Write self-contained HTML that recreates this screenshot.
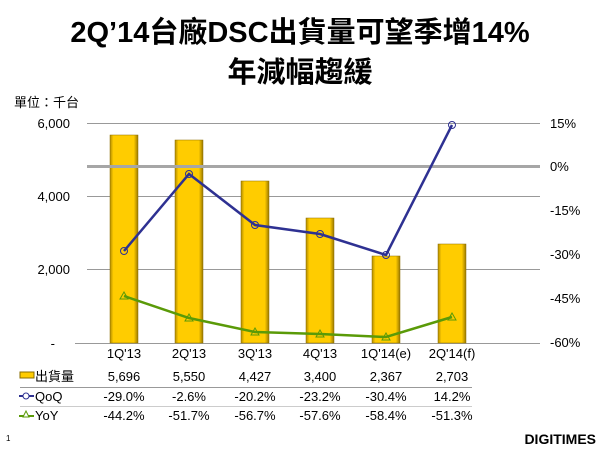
<!DOCTYPE html>
<html><head><meta charset="utf-8"><style>
body{margin:0;background:#fff;width:600px;height:450px;overflow:hidden}
svg text{font-family:"Liberation Sans","Noto Sans CJK TC",sans-serif}
</style></head><body>
<svg width="600" height="450" viewBox="0 0 600 450">
<defs>
<linearGradient id="g" x1="0" x2="1" y1="0" y2="0">
<stop offset="0" stop-color="#b08a00"/><stop offset="0.12" stop-color="#ffcc00"/><stop offset="0.85" stop-color="#ffcc00"/><stop offset="1" stop-color="#9a7800"/>
</linearGradient>
</defs>
<text x="300" y="42" text-anchor="middle" font-size="29" font-weight="bold">2Q’14台廠DSC出貨量可望季增14%</text>
<text x="300" y="82" text-anchor="middle" font-size="29" font-weight="bold">年減幅趨緩</text>
<text x="14" y="107" font-size="13">單位：千台</text>
<g stroke="#999" stroke-width="1">
<line x1="87" y1="123.5" x2="540" y2="123.5"/>
<line x1="87" y1="196.5" x2="540" y2="196.5"/>
<line x1="87" y1="269.5" x2="540" y2="269.5"/>
<line x1="75" y1="343.5" x2="540" y2="343.5"/>
</g>
<g font-size="13" text-anchor="end">
<text x="70" y="128">6,000</text><text x="70" y="201">4,000</text><text x="70" y="274">2,000</text><text x="55" y="348">-</text>
</g>
<g font-size="13">
<text x="550" y="128">15%</text><text x="550" y="171">0%</text><text x="550" y="215">-15%</text><text x="550" y="259">-30%</text><text x="550" y="303">-45%</text><text x="550" y="347">-60%</text>
</g>
<g fill="url(#g)" stroke="#8a6d00" stroke-width="0.5">
<rect x="110" y="135" width="28" height="208"/>
<rect x="175" y="140" width="28" height="203"/>
<rect x="241" y="181" width="28" height="162"/>
<rect x="306" y="218" width="28" height="125"/>
<rect x="372" y="256" width="28" height="87"/>
<rect x="438" y="244" width="28" height="99"/>
</g>
<line x1="87" y1="166.5" x2="540" y2="166.5" stroke="#a6a6a6" stroke-width="3"/>
<polyline points="124,251 189,174 255,225 320,234 386,255 452,125" fill="none" stroke="#2e3192" stroke-width="2.5"/>
<g fill="none" stroke="#2e3192" stroke-width="1"><circle cx="124" cy="251" r="3.5"/><circle cx="189" cy="174" r="3.5"/><circle cx="255" cy="225" r="3.5"/><circle cx="320" cy="234" r="3.5"/><circle cx="386" cy="255" r="3.5"/><circle cx="452" cy="125" r="3.5"/></g>
<polyline points="124,296 189,318 255,332 320,334 386,337 452,317" fill="none" stroke="#5a9a08" stroke-width="2.5"/>
<g fill="none" stroke="#5a9a08" stroke-width="1">
<path d="M120,299 L124,292 L128,299Z"/><path d="M185,321 L189,314 L193,321Z"/><path d="M251,335 L255,328 L259,335Z"/><path d="M316,337 L320,330 L324,337Z"/><path d="M382,340 L386,333 L390,340Z"/><path d="M448,320 L452,313 L456,320Z"/></g>
<g font-size="13" text-anchor="middle">
<text x="124" y="358">1Q'13</text><text x="189" y="358">2Q'13</text><text x="255" y="358">3Q'13</text><text x="320" y="358">4Q'13</text><text x="386" y="358">1Q'14(e)</text><text x="452" y="358">2Q'14(f)</text>
<text x="124" y="381">5,696</text><text x="189" y="381">5,550</text><text x="255" y="381">4,427</text><text x="320" y="381">3,400</text><text x="386" y="381">2,367</text><text x="452" y="381">2,703</text>
<text x="124" y="401">-29.0%</text><text x="189" y="401">-2.6%</text><text x="255" y="401">-20.2%</text><text x="320" y="401">-23.2%</text><text x="386" y="401">-30.4%</text><text x="452" y="401">14.2%</text>
<text x="124" y="420">-44.2%</text><text x="189" y="420">-51.7%</text><text x="255" y="420">-56.7%</text><text x="320" y="420">-57.6%</text><text x="386" y="420">-58.4%</text><text x="452" y="420">-51.3%</text>
</g>
<line x1="20" y1="387.5" x2="472" y2="387.5" stroke="#999"/>
<line x1="20" y1="406.5" x2="472" y2="406.5" stroke="#ccc"/>
<rect x="20" y="372" width="14" height="6" fill="#ffcc00" stroke="#8a6d00" stroke-width="1"/>
<text x="35" y="381" font-size="13">出貨量</text>
<line x1="19" y1="396" x2="34" y2="396" stroke="#2e3192" stroke-width="2"/><circle cx="26" cy="396" r="3" fill="#fff" stroke="#2e3192"/>
<text x="35" y="401" font-size="13">QoQ</text>
<line x1="19" y1="416" x2="34" y2="416" stroke="#5a9a08" stroke-width="2"/><path d="M23,417 L26,411 L29,417Z" fill="#fff" stroke="#5a9a08"/>
<text x="35" y="420" font-size="13">YoY</text>
<text x="6" y="441" font-size="8">1</text>
<text x="596" y="444" font-size="14" font-weight="bold" text-anchor="end" font-family="Liberation Sans">DIGITIMES</text>
</svg>
</body></html>
